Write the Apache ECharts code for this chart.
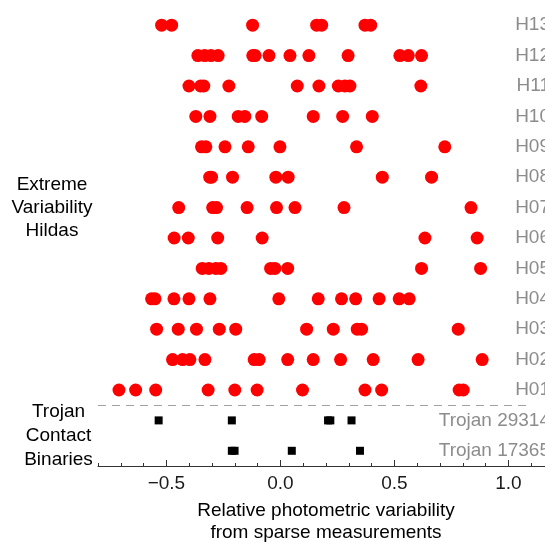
<!DOCTYPE html>
<html>
<head>
<meta charset="utf-8">
<script src="https://cdn.jsdelivr.net/npm/echarts@6/dist/echarts.min.js"></script>
<style>
html,body{margin:0;padding:0;background:#fff;overflow:hidden;}
#chart{width:545px;height:542px;}
</style>
</head>
<body>
<div id="chart"></div>
<script>
// Row labels, bottom to top
const rowLabels = ['Trojan 17365','Trojan 29314','H01','H02','H03','H04','H05','H06','H07','H08','H09','H10','H11','H12','H13'];

// Trojan contact binaries
const trojan17365 = [-0.213, -0.201, 0.050, 0.349];
const trojan29314 = [-0.534, -0.213, 0.209, 0.219, 0.312];

// Extreme variability Hildas
const H01 = [-0.708, -0.635, -0.547, -0.317, -0.200, -0.102, 0.097, 0.371, 0.444, 0.784, 0.802];
const H02 = [-0.473, -0.429, -0.397, -0.331, -0.115, -0.093, 0.032, 0.144, 0.264, 0.407, 0.604, 0.885];
const H03 = [-0.543, -0.448, -0.368, -0.268, -0.196, 0.115, 0.232, 0.337, 0.356, 0.780];
const H04 = [-0.565, -0.550, -0.467, -0.401, -0.309, -0.007, 0.166, 0.268, 0.330, 0.433, 0.521, 0.565];
const H05 = [-0.343, -0.314, -0.283, -0.261, -0.043, -0.024, 0.032, 0.619, 0.878];
const H06 = [-0.466, -0.404, -0.275, -0.080, 0.634, 0.863];
const H07 = [-0.446, -0.297, -0.280, -0.146, -0.017, 0.064, 0.279, 0.836];
const H08 = [-0.310, -0.302, -0.210, -0.020, 0.034, 0.447, 0.663];
const H09 = [-0.346, -0.327, -0.243, -0.141, -0.002, 0.334, 0.721];
const H10 = [-0.371, -0.309, -0.185, -0.156, -0.082, 0.144, 0.273, 0.403];
const H11 = [-0.401, -0.350, -0.336, -0.226, 0.074, 0.169, 0.254, 0.283, 0.305, 0.616];
const H12 = [-0.362, -0.332, -0.304, -0.273, -0.121, -0.111, -0.050, 0.042, 0.125, 0.297, 0.524, 0.561, 0.619];
const H13 = [-0.521, -0.477, -0.122, 0.159, 0.181, 0.371, 0.396];

const hildaRows = [H01, H02, H03, H04, H05, H06, H07, H08, H09, H10, H11, H12, H13];
const trojanRows = [trojan17365, trojan29314];

// Major tick values on x axis
const majorTicks = [-0.5, 0.0, 0.5, 1.0];

const hildaData = [];
hildaRows.forEach((row, i) => row.forEach(v => hildaData.push([v, i + 2])));
const trojanData = [];
trojanRows.forEach((row, i) => row.forEach(v => trojanData.push([v, i])));

const FONT = '"Liberation Sans", Arial, sans-serif';
const fmt = v => {
  const r = Math.round(v * 10) / 10;
  return (r < 0 ? '\u2212' : '') + Math.abs(r).toFixed(1);
};

const chart = echarts.init(document.getElementById('chart'), null, {renderer: 'canvas'});
chart.setOption({
  animation: false,
  backgroundColor: '#ffffff',
  grid: {left: 98, top: 10, width: 456, height: 456, containLabel: false, outerBoundsMode: 'none'},
  xAxis: [{
    type: 'value', min: -0.8, max: 1.2, interval: 0.1,
    splitLine: {show: false},
    axisLine: {show: true, onZero: false, lineStyle: {color: '#333', width: 1}},
    axisTick: {show: true, inside: true, length: 3, lineStyle: {color: '#333'}},
    axisLabel: {
      show: true, margin: 8, color: '#1a1a1a', fontFamily: FONT, fontSize: 19,
      formatter: v => {
        const r = Math.round(v * 10) / 10;
        return majorTicks.some(m => Math.abs(m - r) < 1e-6) ? fmt(r) : '';
      }
    }
  }, {
    type: 'value', min: -0.8, max: 1.2, interval: 0.1, position: 'bottom',
    splitLine: {show: false},
    axisLine: {show: false, onZero: false},
    axisTick: {show: true, inside: true, length: 6, customValues: majorTicks, lineStyle: {color: '#333'}},
    axisLabel: {show: false}
  }],
  yAxis: [{
    type: 'value', min: -0.5, max: 14.5, show: false
  }, {
    type: 'category', data: rowLabels, position: 'right',
    axisLine: {show: false}, axisTick: {show: false}, splitLine: {show: false},
    axisLabel: {inside: true, margin: 4, color: '#8c8c8c', fontFamily: FONT, fontSize: 19, interval: 0}
  }],
  series: [{
    name: 'Hildas', type: 'scatter', xAxisIndex: 0, yAxisIndex: 0,
    symbol: 'circle', symbolSize: 13,
    itemStyle: {color: '#ff0000', opacity: 1},
    data: hildaData,
    markLine: {
      silent: true, symbol: 'none', label: {show: false},
      lineStyle: {type: [8, 6], color: '#a0a0a0', width: 1},
      data: [[{coord: [-0.8, 1.5]}, {coord: [1.1, 1.5]}]]
    }
  }, {
    name: 'Trojans', type: 'scatter', xAxisIndex: 0, yAxisIndex: 0,
    symbol: 'rect', symbolSize: 8,
    itemStyle: {color: '#000000', opacity: 1},
    data: trojanData
  }],
  graphic: [{
    type: 'text', x: 52, y: 208,
    style: {text: 'Extreme\nVariability\nHildas', font: '19px ' + FONT, fill: '#000',
      align: 'center', verticalAlign: 'middle', lineHeight: 23}
  }, {
    type: 'text', x: 58.5, y: 436,
    style: {text: 'Trojan\nContact\nBinaries', font: '19px ' + FONT, fill: '#000',
      align: 'center', verticalAlign: 'middle', lineHeight: 24}
  }, {
    type: 'text', x: 326, y: 522,
    style: {text: 'Relative photometric variability\nfrom sparse measurements', font: '19px ' + FONT, fill: '#000',
      align: 'center', verticalAlign: 'middle', lineHeight: 22}
  }]
});
</script>
</body>
</html>
